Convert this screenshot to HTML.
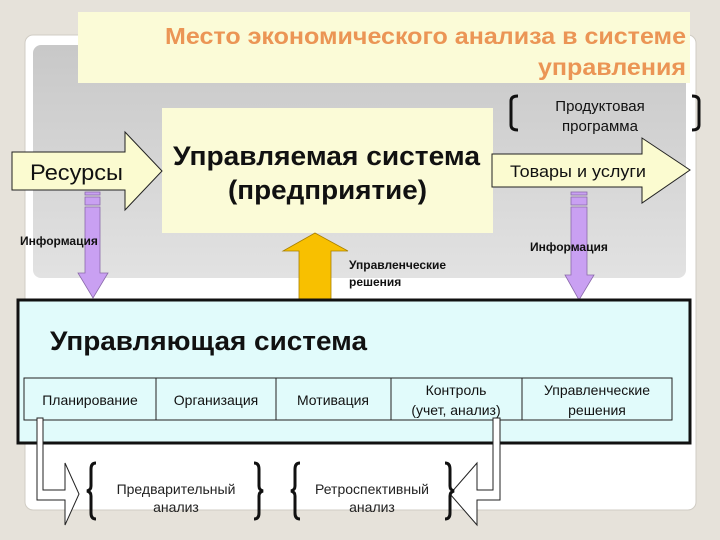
<!DOCTYPE html>
<html><head><meta charset="utf-8"><style>
html,body{margin:0;padding:0;background:#e6e2da;}
svg{display:block;font-family:"Liberation Sans",sans-serif;}
</style></head><body>
<svg width="720" height="540" viewBox="0 0 720 540" xmlns="http://www.w3.org/2000/svg">
<defs>
<linearGradient id="g" x1="0" y1="0" x2="0" y2="1">
<stop offset="0" stop-color="#c8c8c8"/><stop offset="1" stop-color="#e2e2e2"/></linearGradient>
</defs>
<rect x="0" y="0" width="720" height="540" fill="#e6e2da"/>
<rect x="25" y="35" width="671" height="475" rx="8" fill="#ffffff" stroke="#d0ccc4"/>
<rect x="33" y="45" width="653" height="233" rx="8" fill="url(#g)"/>
<rect x="78" y="12" width="612" height="71" fill="#fbfbd7"/>
<text x="165" y="44" textLength="521" lengthAdjust="spacingAndGlyphs" font-size="23" font-weight="bold" fill="#eb9555">Место экономического анализа в системе</text>
<text x="538" y="75" textLength="148" lengthAdjust="spacingAndGlyphs" font-size="23" font-weight="bold" fill="#eb9555">управления</text>
<rect x="162" y="108" width="331" height="125" fill="#fbfbd7"/>
<text x="173" y="165" textLength="307" lengthAdjust="spacingAndGlyphs" font-size="27" font-weight="bold" fill="#111">Управляемая система</text>
<text x="228" y="199" textLength="199" lengthAdjust="spacingAndGlyphs" font-size="27" font-weight="bold" fill="#111">(предприятие)</text>
<path d="M12 152H125V132L162 171L125 210V190H12Z" fill="#fbfbd0" stroke="#222" stroke-width="1"/>
<text x="30" y="180" textLength="93" lengthAdjust="spacingAndGlyphs" font-size="22" fill="#111">Ресурсы</text>
<path d="M492 154H642V138L690 170L642 203V187H492Z" fill="#fbfbd0" stroke="#222" stroke-width="1"/>
<text x="510" y="177" textLength="136" lengthAdjust="spacingAndGlyphs" font-size="17" fill="#111">Товары и услуги</text>
<path d="M518 96q-7 0 -7 5v24q0 5 7 5" fill="none" stroke="#111" stroke-width="3"/>
<path d="M692 96q7 0 7 5v24q0 5 -7 5" fill="none" stroke="#111" stroke-width="3"/>
<text x="600" y="111" text-anchor="middle" font-size="15" fill="#111">Продуктовая</text>
<text x="600" y="131" text-anchor="middle" font-size="15" fill="#111">программа</text>
<g fill="#c9a0f2" stroke="#8a6aaa" stroke-width="0.8">
<rect x="85" y="192" width="15" height="3"/><rect x="85" y="197" width="15" height="8"/>
<path d="M85 207H100V273H108L93 298L78 273H85Z"/>
<rect x="571" y="192" width="16" height="3"/><rect x="571" y="197" width="16" height="8"/>
<path d="M571 207H587V275H594L579 300L565 275H571Z"/>
</g>
<text x="20" y="245" font-size="12" font-weight="bold" fill="#111">Информация</text>
<text x="530" y="251" font-size="12" font-weight="bold" fill="#111">Информация</text>
<path d="M315 233L348 251H331V300H299V251H283Z" fill="#f8c000" stroke="#a88000" stroke-width="0.8"/>
<text x="349" y="269" font-size="12" font-weight="bold" fill="#111">Управленческие</text>
<text x="349" y="286" font-size="12" font-weight="bold" fill="#111">решения</text>
<rect x="18" y="300" width="672" height="143" fill="#e1fbfb" stroke="#111" stroke-width="3"/>
<text x="50" y="350" textLength="317" lengthAdjust="spacingAndGlyphs" font-size="27" font-weight="bold" fill="#111">Управляющая система</text>
<g fill="none" stroke="#222" stroke-width="1">
<rect x="24" y="378" width="648" height="42"/>
<line x1="156" y1="378" x2="156" y2="420"/><line x1="276" y1="378" x2="276" y2="420"/>
<line x1="391" y1="378" x2="391" y2="420"/><line x1="522" y1="378" x2="522" y2="420"/>
</g>
<g font-size="14" fill="#111" text-anchor="middle">
<text x="90" y="405">Планирование</text>
<text x="216" y="405">Организация</text>
<text x="333" y="405">Мотивация</text>
<text x="456" y="395">Контроль</text>
<text x="456" y="415">(учет, анализ)</text>
<text x="597" y="395">Управленческие</text>
<text x="597" y="415">решения</text>
</g>
<g fill="#ffffff" stroke="#222" stroke-width="1">
<path d="M37 418H43V490H65V463L79 494L65 525V500H37Z"/>
<path d="M500 418H493V490H477V463L450 494L477 525V500H500Z"/>
</g>
<g fill="none" stroke="#111" stroke-width="3">
<path d="M96 463q-5 0 -5 6v17q0 4 -4 5q4 1 4 5v17q0 6 5 6"/>
<path d="M254 463q5 0 5 6v17q0 4 4 5q-4 1 -4 5v17q0 6 -5 6"/>
<path d="M300 463q-5 0 -5 6v17q0 4 -4 5q4 1 4 5v17q0 6 5 6"/>
<path d="M445 463q5 0 5 6v17q0 4 4 5q-4 1 -4 5v17q0 6 -5 6"/>
</g>
<g font-size="14" fill="#222" text-anchor="middle">
<text x="176" y="494">Предварительный</text>
<text x="176" y="512">анализ</text>
<text x="372" y="494">Ретроспективный</text>
<text x="372" y="512">анализ</text>
</g>
</svg>
</body></html>
